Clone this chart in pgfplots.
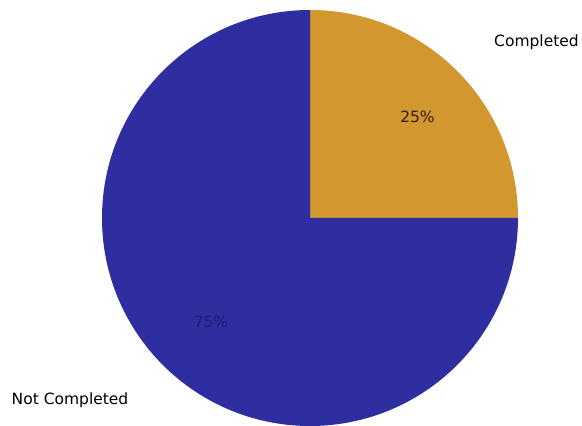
\documentclass[border=0pt]{standalone}
\usepackage{pgfplots}
\usepackage{pgfplotstable}
\pgfplotsset{compat=1.18}
\usetikzlibrary{calc}
\usepackage{fontspec}
\setmainfont{DejaVu Sans}
\definecolor{pieorange}{RGB}{211,151,48}
\definecolor{pieblue}{RGB}{46,46,160}
\definecolor{lbldark}{RGB}{45,30,15}
\definecolor{lblblue}{RGB}{28,28,115}
\pgfplotstableread{
label value
Completed 25
NotCompleted 75
}\piedata
\begin{document}
\begin{tikzpicture}
\pgfplotstablegetelem{0}{value}\of\piedata
\pgfmathsetmacro{\va}{\pgfplotsretval}
\pgfplotstablegetelem{1}{value}\of\piedata
\pgfmathsetmacro{\vb}{\pgfplotsretval}
\pgfmathsetmacro{\tot}{\va+\vb}
\pgfmathsetmacro{\aend}{90-360*(\va/\tot)}
\pgfmathsetmacro{\bend}{\aend-360*(\vb/\tot)}
\begin{axis}[
  scale only axis, width=582pt, height=426pt,
  xmin=0, xmax=582, ymin=0, ymax=426,
  hide axis, clip=false,
]
\path (axis cs:0,0) rectangle (axis cs:582,426);
\fill[pieorange] (axis cs:310,208) -- (axis cs:310,416) arc[start angle=90, end angle=\aend, radius=208pt] -- cycle;
\fill[pieblue] (axis cs:310,208) -- ($(axis cs:310,208)+(\aend:208pt)$) arc[start angle=\aend, end angle=\bend, radius=208pt] -- cycle;
\node[anchor=base, font=\fontsize{15.5}{18}\selectfont, text=black, inner sep=0pt] at (axis cs:536.5,379) {Completed};
\node[anchor=base, font=\fontsize{15.5}{18}\selectfont, text=black, inner sep=0pt] at (axis cs:70,21) {Not Completed};
\node[anchor=base, font=\fontsize{15.5}{18}\selectfont, text=lbldark, inner sep=0pt] at (axis cs:417.5,303) {25\%};
\node[anchor=base, font=\fontsize{15.5}{18}\selectfont, text=lblblue, inner sep=0pt] at (axis cs:211,98) {75\%};
\end{axis}
\end{tikzpicture}
\end{document}
